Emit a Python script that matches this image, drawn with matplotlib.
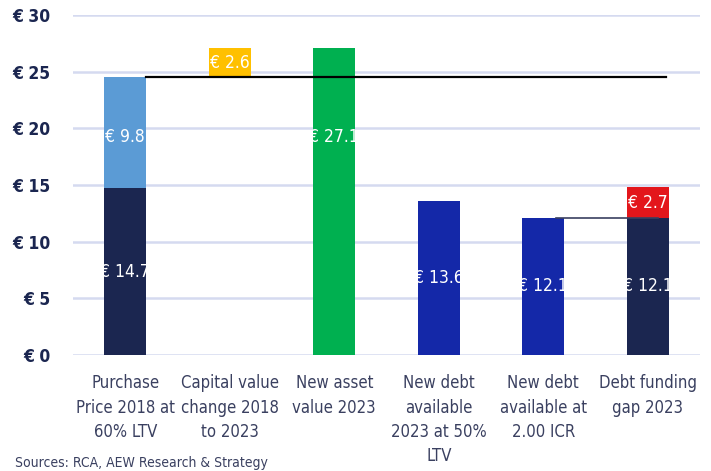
import matplotlib.pyplot as plt
import numpy as np

plt.rcParams['font.family'] = ['DejaVu Sans']
plt.rcParams['font.stretch'] = 'condensed'

categories = ['Purchase\nPrice 2018 at\n60% LTV', 'Capital value\nchange 2018\nto 2023',
              'New asset\nvalue 2023', 'New debt\navailable\n2023 at 50%\nLTV',
              'New debt\navailable at\n2.00 ICR', 'Debt funding\ngap 2023']
base_vals = [14.7, 24.5, 27.1, 13.6, 12.1, 12.1]
top_vals = [9.8, 2.6, 0, 0, 0, 2.7]
base_colors = ['#1b2650', 'none', '#00b050', '#1428a8', '#1428a8', '#1b2650']
top_colors = ['#5b9bd5', '#ffc000', 'none', 'none', 'none', '#e3161b']
ticks = [0, 5, 10, 15, 20, 25, 30]

fig = plt.figure(figsize=(7.11, 4.71), dpi=100)
ax = fig.add_axes([0.1027, 0.2463, 0.882, 0.722])

x = np.arange(len(categories))
w = 0.4
for i in range(len(categories)):
    if base_colors[i] != 'none':
        ax.bar(x[i], base_vals[i], width=w, color=base_colors[i], zorder=3)
    if top_vals[i]:
        ax.bar(x[i], top_vals[i], bottom=base_vals[i], width=w, color=top_colors[i], zorder=3)

# bridge lines
ax.plot([x[0] + w / 2, 5.17], [base_vals[0] + top_vals[0]] * 2, color='black', lw=1.6, zorder=4)
ax.plot([4.12, 5.1], [base_vals[4]] * 2, color='#3a4060', lw=1.2, zorder=4)

# value labels
lab_kw = dict(ha='center', va='center', color='white', fontsize=12.5, zorder=5)
ax.text(x[0], base_vals[0] / 2, f'€ {base_vals[0]}', **lab_kw)
ax.text(x[0], 19.2, f'€ {top_vals[0]}', **lab_kw)
ax.text(x[1], base_vals[1] + top_vals[1] / 2, f'€ {top_vals[1]}', **lab_kw)
ax.text(x[2], 19.2, f'€ {base_vals[2]}', **lab_kw)
ax.text(x[3], base_vals[3] / 2, f'€ {base_vals[3]}', **lab_kw)
ax.text(x[4], base_vals[4] / 2, f'€ {base_vals[4]}', **lab_kw)
ax.text(x[5], base_vals[5] / 2, f'€ {base_vals[5]}', **lab_kw)
ax.text(x[5], base_vals[5] + top_vals[5] / 2, f'€ {top_vals[5]}', **lab_kw)

ax.set_xlim(-0.5, 5.5)
ax.set_ylim(0, 30)
ax.set_yticks(ticks)
ax.set_yticklabels([f'€ {t}' for t in ticks], fontsize=12.5, fontweight='bold', color='#1b2650')
ax.set_xticks(x)
ax.set_xticklabels(categories, fontsize=12, color='#3a4060', linespacing=1.45)
ax.tick_params(axis='both', length=0)
ax.tick_params(axis='y', pad=16)
ax.tick_params(axis='x', pad=14)
ax.yaxis.grid(True, color='#d5daf0', lw=1.8, zorder=0)
ax.set_axisbelow(True)
for s in ax.spines.values():
    s.set_visible(False)

fig.text(0.021, 0.003, 'Sources: RCA, AEW Research & Strategy', fontsize=10, color='#3a4060',
         ha='left', va='bottom')

fig.savefig('out.png', dpi=100)
